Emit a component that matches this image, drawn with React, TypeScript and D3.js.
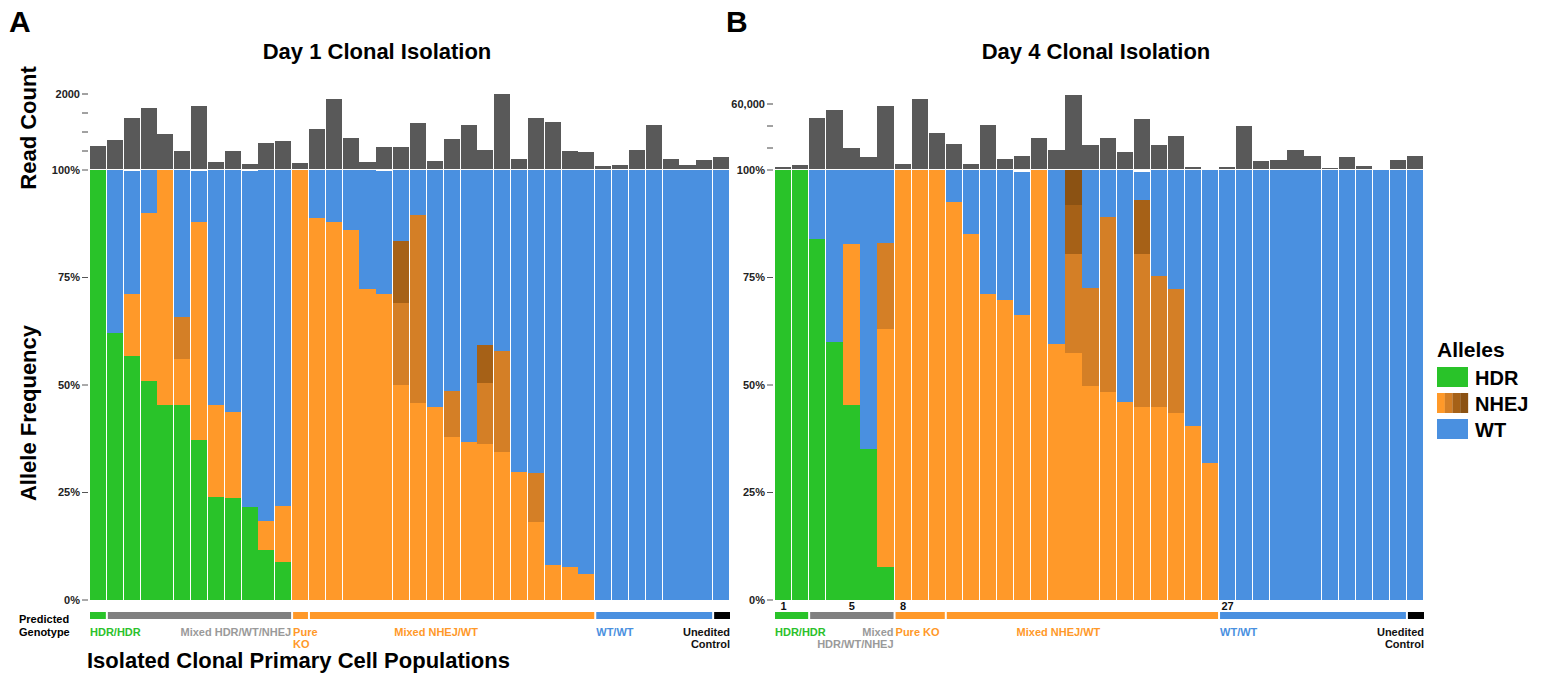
import React from 'react';
import * as d3 from 'd3';

const FONT = '"Liberation Sans", Arial, Helvetica, sans-serif';

// allele layers, stacked bottom -> top
const alleleKeys = ['HDR', 'NHEJ1', 'NHEJ2', 'NHEJ3', 'NHEJ4', 'WT'];
const alleleColors = ['#29c329', '#ff9929', '#d47f26', '#a66117', '#8b5213', '#4a90e0'];

const genotypeNames = ['HDR/HDR', 'Mixed HDR/WT/NHEJ', 'Pure KO', 'Mixed NHEJ/WT', 'WT/WT', 'Unedited Control'];
const genotypeBarColors = ['#29c329', '#808080', '#ff9929', '#ff9929', '#4a90e0', '#000000'];
const genotypeTextColors = ['#2bc12b', '#9a9a9a', '#ff9929', '#ff9929', '#4a90e0', '#111111'];
const genotypeAnchors = ['start', 'end', 'start', 'middle', 'start', 'end'];

// ---- Day 1 ----
const readsDay1 = [632, 789, 1368, 1632, 947, 500, 1684, 211, 500, 158, 711, 763, 184, 1079, 1868, 842, 211, 605, 605, 1237,
  237, 816, 1184, 526, 2000, 289, 1368, 1263, 500, 474, 105, 132, 526, 1184, 289, 132, 263, 342];
const hdrDay1 = [100, 62.1, 56.7, 50.9, 45.3, 45.3, 37.2, 24.0, 23.7, 21.6, 11.6, 8.8, 0, 0, 0, 0, 0, 0, 0, 0,
  0, 0, 0, 0, 0, 0, 0, 0, 0, 0, 0, 0, 0, 0, 0, 0, 0, 0];
const nhej1Day1 = [0, 0, 14.5, 39.1, 54.7, 10.7, 50.7, 21.3, 20.0, 0, 6.8, 13.1, 100, 88.8, 87.9, 86.0, 72.3, 71.2, 50.0, 45.8,
  44.9, 37.9, 36.7, 36.3, 34.4, 29.8, 18.1, 8.1, 7.7, 6.0, 0, 0, 0, 0, 0, 0, 0, 0];
const nhej2Day1 = [0, 0, 0, 0, 0, 9.8, 0, 0, 0, 0, 0, 0, 0, 0, 0, 0, 0, 0, 19.1, 43.7,
  0, 10.7, 0, 14.1, 23.4, 0, 11.4, 0, 0, 0, 0, 0, 0, 0, 0, 0, 0, 0];
const nhej3Day1 = [0, 0, 0, 0, 0, 0, 0, 0, 0, 0, 0, 0, 0, 0, 0, 0, 0, 0, 14.4, 0,
  0, 0, 0, 8.9, 0, 0, 0, 0, 0, 0, 0, 0, 0, 0, 0, 0, 0, 0];
const nhej4Day1 = [0, 0, 0, 0, 0, 0, 0, 0, 0, 0, 0, 0, 0, 0, 0, 0, 0, 0, 0, 0,
  0, 0, 0, 0, 0, 0, 0, 0, 0, 0, 0, 0, 0, 0, 0, 0, 0, 0];
const wtDay1 = [0, 37.9, 28.6, 10.0, 0, 34.2, 11.9, 54.7, 56.3, 78.2, 81.6, 78.1, 0, 11.2, 12.1, 14.0, 27.7, 28.6, 16.5, 10.5,
  55.1, 51.4, 63.3, 40.7, 42.2, 70.2, 70.5, 91.9, 92.3, 94.0, 100, 100, 100, 100, 100, 100, 100, 100];
const genotypeCountsDay1 = [1, 11, 1, 17, 7, 1];
const genotypeLinesDay1 = [['HDR/HDR'], ['Mixed HDR/WT/NHEJ'], ['Pure', 'KO'], ['Mixed NHEJ/WT'], ['WT/WT'], ['Unedited', 'Control']];

// ---- Day 4 ----
const readsDay4 = [2700, 4500, 47300, 54500, 20000, 11800, 58200, 5450, 64500, 33600, 23600, 5450, 40900, 10000, 12700, 29100, 18200, 68200, 22700, 29100,
  16400, 46400, 22700, 30900, 2700, 900, 2700, 40000, 8200, 9100, 18200, 12700, 1800, 11800, 3600, 900, 9100, 12700];
const hdrDay4 = [100, 100, 84.0, 60.1, 45.3, 35.1, 7.7, 0, 0, 0, 0, 0, 0, 0, 0, 0, 0, 0, 0, 0,
  0, 0, 0, 0, 0, 0, 0, 0, 0, 0, 0, 0, 0, 0, 0, 0, 0, 0];
const nhej1Day4 = [0, 0, 0, 0, 37.5, 0, 55.3, 100, 100, 100, 92.6, 85.1, 71.2, 69.8, 66.3, 100, 59.5, 57.4, 49.8, 48.4,
  46.0, 44.9, 44.9, 43.5, 40.5, 31.9, 0, 0, 0, 0, 0, 0, 0, 0, 0, 0, 0, 0];
const nhej2Day4 = [0, 0, 0, 0, 0, 0, 20.0, 0, 0, 0, 0, 0, 0, 0, 0, 0, 0, 23.1, 22.8, 40.7,
  0, 35.6, 30.4, 28.8, 0, 0, 0, 0, 0, 0, 0, 0, 0, 0, 0, 0, 0, 0];
const nhej3Day4 = [0, 0, 0, 0, 0, 0, 0, 0, 0, 0, 0, 0, 0, 0, 0, 0, 0, 11.4, 0, 0,
  0, 12.5, 0, 0, 0, 0, 0, 0, 0, 0, 0, 0, 0, 0, 0, 0, 0, 0];
const nhej4Day4 = [0, 0, 0, 0, 0, 0, 0, 0, 0, 0, 0, 0, 0, 0, 0, 0, 0, 8.1, 0, 0,
  0, 0, 0, 0, 0, 0, 0, 0, 0, 0, 0, 0, 0, 0, 0, 0, 0, 0];
const wtDay4 = [0, 0, 16.0, 39.9, 17.2, 64.9, 17.0, 0, 0, 0, 7.4, 14.9, 28.8, 30.2, 33.2, 0, 40.5, 0, 27.4, 10.9,
  54.0, 6.5, 24.7, 27.7, 59.5, 68.1, 100, 100, 100, 100, 100, 100, 100, 100, 100, 100, 100, 100];
const genotypeCountsDay4 = [2, 5, 3, 16, 11, 1];
const genotypeLinesDay4 = [['HDR/HDR'], ['Mixed', 'HDR/WT/NHEJ'], ['Pure KO'], ['Mixed NHEJ/WT'], ['WT/WT'], ['Unedited', 'Control']];
const cloneNumbersDay4 = [1, 5, 8, 27];

const pctTicks = [0, 25, 50, 75, 100];

function Panel(props: any) {
  const { x0, x1, reads, layers, readMax, readTop, readFmt, counts, lines, midDx, cloneNumbers, title, titleX, letter, letterX } = props;
  const n = reads.length;
  const idx = d3.range(n);
  const x = d3.scaleBand<number>().domain(idx).range([x0, x1]).paddingInner(0);
  const y = d3.scaleLinear().domain([0, 100]).range([600, 170]);
  const yr = d3.scaleLinear().domain([0, readMax]).range([170, readTop]);
  const rows = idx.map(i => {
    const r: any = {};
    alleleKeys.forEach((k, j) => { r[k] = layers[j][i]; });
    return r;
  });
  const series = d3.stack().keys(alleleKeys)(rows);
  // thin white separators; pixel snapping drops some of them, as in the original
  const bw = x.bandwidth() - 0.8;

  const ends = d3.cumsum(counts) as any;
  const starts = counts.map((_: number, g: number) => (g === 0 ? 0 : ends[g - 1]));
  const segX = (i: number) => (i >= n ? x1 : (x(i) as number));

  const readTicks = yr.ticks(3).filter(t => t > 0);

  return (
    <g>
      <text x={letterX} y={32} fontSize={30} fontWeight="bold" fontFamily={FONT}>{letter}</text>
      <text x={titleX} y={59} fontSize={22} fontWeight="bold" fontFamily={FONT} textAnchor="middle">{title}</text>

      {/* read count ticks */}
      {readTicks.map(t => (
        <g key={'r' + t}>
          <line x1={x0 - 8} x2={x0 - 2} y1={yr(t)} y2={yr(t)} stroke="#444" />
          {t === readMax && (
            <text x={x0 - 10} y={yr(t)} dy="0.35em" textAnchor="end" fontSize={11} fontWeight="bold" fontFamily={FONT} fill="#222">{readFmt(t)}</text>
          )}
        </g>
      ))}
      {/* percent ticks */}
      {pctTicks.map(t => (
        <g key={'p' + t}>
          <line x1={x0 - 8} x2={x0 - 2} y1={y(t)} y2={y(t)} stroke="#555" />
          <text x={x0 - 10} y={y(t)} dy="0.35em" textAnchor="end" fontSize={11} fontWeight="bold" fontFamily={FONT} fill="#222">{t + '%'}</text>
        </g>
      ))}

      {/* read counts */}
      <g shapeRendering="crispEdges">
        {idx.map(i => (
          <rect key={'rc' + i} x={x(i)} width={bw} y={yr(reads[i])} height={Math.max(0, 169 - yr(reads[i]))} fill="#595959" />
        ))}
      </g>

      {/* allele stacks */}
      <g shapeRendering="crispEdges">
        {series.map((s, j) => (
          <g key={s.key} fill={alleleColors[j]}>
            {s.map((d, i) => (d[1] - d[0] > 0 ? (
              <rect key={i} x={x(i)} width={bw} y={y(d[1])} height={y(d[0]) - y(d[1])} />
            ) : null))}
          </g>
        ))}
      </g>

      {/* clone numbers */}
      {cloneNumbers && cloneNumbers.map((c: number) => (
        <text key={'c' + c} x={(x(c - 1) as number) + x.bandwidth() / 2} y={610} textAnchor="middle" fontSize={11} fontWeight="bold" fontFamily={FONT} fill="#111">{c}</text>
      ))}

      {/* predicted genotype */}
      {counts.map((c: number, g: number) => {
        const xs = segX(starts[g]) + (g === 0 ? 0 : 1);
        const xe = segX(ends[g]) - (g === counts.length - 1 ? 0 : 1);
        const anchor = genotypeAnchors[g];
        const tx = anchor === 'start' ? xs : anchor === 'end' ? xe : (xs + xe) / 2 + midDx;
        return (
          <g key={'g' + g}>
            <rect x={xs} width={xe - xs} y={612} height={7} fill={genotypeBarColors[g]} />
            {lines[g].map((ln: string, k: number) => (
              <text key={k} x={tx} y={636 + k * 12} textAnchor={anchor} fontSize={11} fontWeight="bold" fontFamily={FONT} fill={genotypeTextColors[g]}>{ln}</text>
            ))}
          </g>
        );
      })}
    </g>
  );
}

export default function App() {
  const layersDay1 = [hdrDay1, nhej1Day1, nhej2Day1, nhej3Day1, nhej4Day1, wtDay1];
  const layersDay4 = [hdrDay4, nhej1Day4, nhej2Day4, nhej3Day4, nhej4Day4, wtDay4];
  const legendY = d3.scaleBand<string>().domain(['HDR', 'NHEJ', 'WT']).range([367, 445]);

  return (
    <svg width={1545} height={679} style={{ position: 'absolute', left: 0, top: 0, background: '#fff' }}>
      <Panel x0={90} x1={730} reads={readsDay1} layers={layersDay1} readMax={2000} readTop={94}
        readFmt={d3.format('d')} counts={genotypeCountsDay1} lines={genotypeLinesDay1} midDx={-16}
        title="Day 1 Clonal Isolation" titleX={377} letter="A" letterX={9} />
      <Panel x0={775} x1={1424} reads={readsDay4} layers={layersDay4} readMax={60000} readTop={104}
        readFmt={d3.format(',')} counts={genotypeCountsDay4} lines={genotypeLinesDay4} midDx={-24}
        cloneNumbers={cloneNumbersDay4}
        title="Day 4 Clonal Isolation" titleX={1096} letter="B" letterX={726} />

      {/* axis titles */}
      <text transform="translate(36,128) rotate(-90)" textAnchor="middle" fontSize={22} fontWeight="bold" fontFamily={FONT}>Read Count</text>
      <text transform="translate(36,413) rotate(-90)" textAnchor="middle" fontSize={22} fontWeight="bold" fontFamily={FONT}>Allele Frequency</text>
      <text x={19} y={623} fontSize={11} fontWeight="bold" fontFamily={FONT}>Predicted</text>
      <text x={19} y={636} fontSize={11} fontWeight="bold" fontFamily={FONT}>Genotype</text>
      <text x={87} y={668} fontSize={22} fontWeight="bold" fontFamily={FONT}>Isolated Clonal Primary Cell Populations</text>

      {/* legend */}
      <text x={1437} y={357} fontSize={21} fontWeight="bold" fontFamily={FONT}>Alleles</text>
      {['HDR', 'NHEJ', 'WT'].map(k => {
        const yy = legendY(k) as number;
        return (
          <g key={k}>
            {k === 'HDR' && <rect x={1437} y={yy} width={31} height={20} fill={alleleColors[0]} />}
            {k === 'WT' && <rect x={1437} y={yy} width={31} height={20} fill={alleleColors[5]} />}
            {k === 'NHEJ' && [1, 2, 3, 4].map((c, m) => (
              <rect key={c} x={1437 + m * 7.75} y={yy} width={7.9} height={20} fill={alleleColors[c]} />
            ))}
            <text x={1475} y={yy + 18} fontSize={20} fontWeight="bold" fontFamily={FONT}>{k}</text>
          </g>
        );
      })}
    </svg>
  );
}
